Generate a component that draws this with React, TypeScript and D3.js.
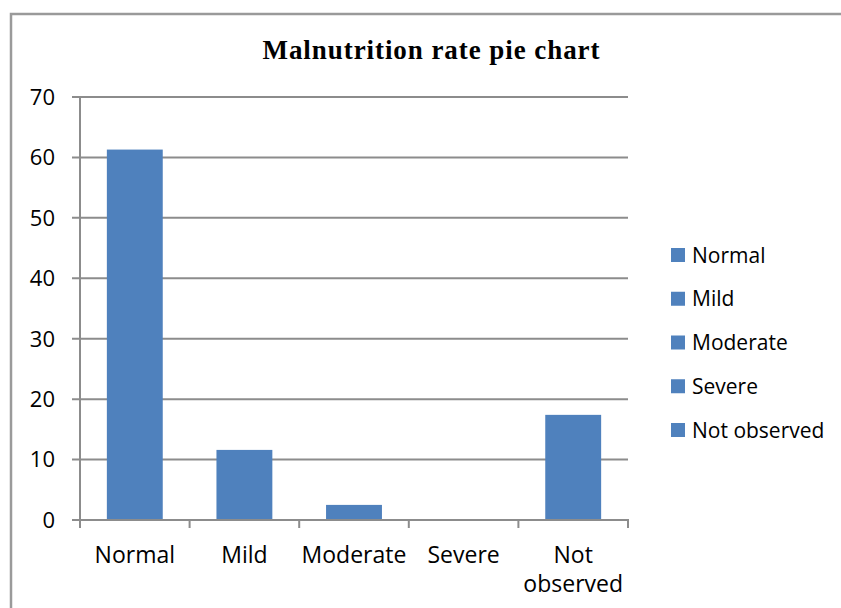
import * as d3 from 'd3';

// chart data
const categories = ['Normal', 'Mild', 'Moderate', 'Severe', 'Not observed'];
const values = [61.3, 11.6, 2.5, 0, 17.4];
const yTicks = [0, 10, 20, 30, 40, 50, 60, 70];
const xLabelLines = [['Normal'], ['Mild'], ['Moderate'], ['Severe'], ['Not', 'observed']];

const W = 841;
const H = 608;
const BAR = '#4f81bd';
const GRID = '#8c8c8c';
const SANS = '"Open Sans", "Noto Sans", sans-serif';

export default function App() {
  const x = d3.scaleBand<string>()
    .domain(categories)
    .range([80, 628])
    .paddingInner(0.49)
    .paddingOuter(0.245);

  const y = d3.scaleLinear().domain([0, 70]).range([520, 97]);

  const step = x.step();

  return (
    <svg width={W} height={H} style={{ position: 'absolute', left: 0, top: 0, background: '#fff' }}>
      {/* outer frame */}
      <rect x={11} y={14} width={900} height={700} fill="none" stroke="#9a9a9a" strokeWidth={2.5} />

      <text x={431} y={59} textAnchor="middle" fontFamily='"Liberation Serif", "Times New Roman", serif'
        fontWeight="bold" fontSize={27} textLength={337} lengthAdjust="spacing">
        Malnutrition rate pie chart
      </text>

      {/* gridlines + y ticks */}
      {yTicks.map(t => (
        <g key={t}>
          <line x1={72} x2={628} y1={y(t)} y2={y(t)} stroke={GRID} strokeWidth={2} />
          <text x={55} y={y(t)} dy="0.36em" textAnchor="end" fontFamily={SANS} fontSize={22} fill="#000">{t}</text>
        </g>
      ))}

      {/* y axis */}
      <line x1={80} x2={80} y1={y(70)} y2={y(0)} stroke={GRID} strokeWidth={2} />

      {/* bars */}
      {categories.map((c, i) => (
        <rect key={c} x={x(c)} y={y(values[i])} width={x.bandwidth()}
          height={y(0) - y(values[i])} fill={BAR} />
      ))}

      {/* x axis */}
      <line x1={79} x2={629} y1={y(0)} y2={y(0)} stroke={GRID} strokeWidth={2} />
      {d3.range(categories.length + 1).map(i => {
        const px = 80 + i * step;
        return <line key={i} x1={px} x2={px} y1={y(0)} y2={y(0) + 8} stroke={GRID} strokeWidth={2} />;
      })}
      {categories.map((c, i) => {
        const cx = (x(c) ?? 0) + x.bandwidth() / 2;
        return (
          <text key={c} x={cx} y={563} textAnchor="middle" fontFamily={SANS} fontSize={23} fill="#000">
            {xLabelLines[i].map((l, j) => (
              <tspan key={j} x={cx} dy={j === 0 ? 0 : 29}>{l}</tspan>
            ))}
          </text>
        );
      })}

      {/* legend */}
      {categories.map((c, i) => {
        const cy = 255 + i * 43.75;
        return (
          <g key={c}>
            <rect x={671} y={cy - 7} width={14} height={14} fill={BAR} />
            <text x={692} y={cy} dy="0.36em" fontFamily={SANS} fontSize={21} fill="#000">{c}</text>
          </g>
        );
      })}
    </svg>
  );
}
